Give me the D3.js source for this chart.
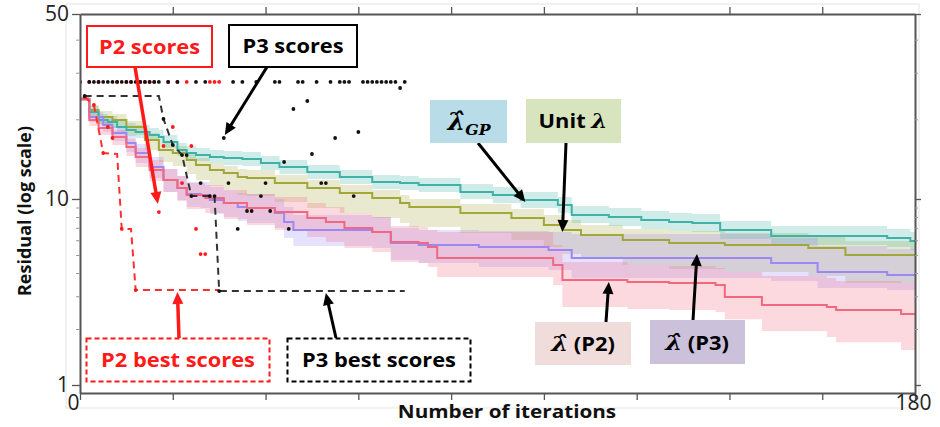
<!DOCTYPE html>
<html>
<head>
<meta charset="utf-8">
<script src="https://cdn.jsdelivr.net/npm/d3@7"></script>
<style>
  body { margin: 0; background: #fff; }
  svg { display: block; font-family: "Open Sans", "Noto Sans", sans-serif; }
</style>
</head>
<body>
<svg id="chart" width="940" height="427"></svg>
<script>
// ---------------- data ----------------
// Mean residual and band (low/high) of each method, as step series over iterations
const gpIter  = [0,2,4,6,8,10,12,15,17,18,21,23,25,28,31,35,39,43,49,56,63,69,73,82,89,95,103,106,114,121,127,132,138,149,174,179,180];
const gpMean  = [23.87,21.32,19.89,19.54,18.71,18.23,17.91,17.45,17.15,16.42,15.31,14.92,14.66,14.41,14.29,14.16,13.68,13.21,12.65,12.11,11.59,11.49,11.29,10.63,10.35,9.88,9.28,8.20,8.00,7.71,7.52,7.43,6.81,6.32,6.17,5.95,5.95];
const gpHigh  = [24.29,22.46,20.95,20.59,19.89,19.37,19.04,18.55,18.23,17.45,16.28,15.86,15.59,15.31,15.18,15.05,14.54,14.04,13.44,12.87,12.32,12.22,12.01,11.39,11.10,10.63,10.17,9.17,8.94,8.62,8.41,8.30,7.61,7.16,6.90,6.65,6.65];
const gpLow   = [23.46,20.59,19.04,18.55,17.76,17.30,17.00,16.56,16.28,15.59,14.54,14.16,13.92,13.68,13.44,13.33,12.87,12.43,11.90,11.39,10.91,10.81,10.63,10.00,9.51,8.94,8.41,7.43,7.16,6.90,6.73,6.65,6.09,5.66,5.52,5.32,5.32];

const unitIter = [0,2,4,7,10,14,17,20,23,25,28,31,34,36,42,49,56,63,69,71,82,93,100,104,108,117,127,139,157,165,180];
const unitMean = [23.87,21.69,20.40,19.89,18.71,16.71,15.31,14.92,14.04,13.44,12.87,12.54,12.11,12.01,11.49,11.00,10.54,10.09,9.51,9.06,8.41,7.90,7.25,6.81,6.40,6.02,5.80,5.66,5.45,5.00,5.00];
const unitHigh = [24.29,22.65,21.50,20.95,19.71,17.76,16.28,15.86,14.92,14.29,13.68,13.33,12.98,12.87,12.32,11.80,11.29,10.81,10.35,10.00,9.40,8.84,8.20,7.71,7.25,6.90,6.73,6.56,6.40,5.95,5.95];
const unitLow  = [23.46,20.77,19.20,18.55,17.45,15.31,13.80,13.33,12.43,11.80,11.20,10.81,10.35,10.26,9.63,8.94,8.41,7.90,7.43,7.07,6.56,6.02,5.52,5.06,4.76,4.42,4.20,4.05,3.85,3.53,3.53];

const lamP3Iter = [0,2,5,7,10,12,15,18,21,23,26,28,31,34,36,42,44,46,63,67,73,86,101,106,149,159,174,180];
const lamP3Mean = [23.87,20.40,19.04,17.76,16.28,14.92,13.21,11.80,11.00,10.44,10.35,9.88,9.51,9.06,8.94,8.41,7.52,6.81,6.65,5.80,5.66,5.52,5.32,4.82,4.53,4.05,3.90,3.85];
const lamP3High = [24.29,21.32,20.06,18.87,17.45,16.14,14.41,12.98,12.22,11.59,11.59,11.10,10.81,10.54,10.44,10.00,9.06,8.20,8.00,6.98,6.81,6.73,6.65,6.48,6.17,5.59,5.38,5.32];
const lamP3Low  = [23.46,19.54,17.91,16.56,15.05,13.68,12.01,10.63,9.88,9.06,8.94,8.30,8.00,7.61,7.43,6.98,6.17,5.59,5.45,4.70,4.53,4.31,4.15,3.76,3.62,3.32,3.24,3.20];

const lamP2Iter = [0,2,4,7,10,12,15,18,21,23,27,31,36,42,49,53,57,63,67,73,75,77,102,104,118,127,137,139,147,161,163,177,180];
const lamP2Mean = [23.87,19.89,18.55,17.15,15.72,14.41,12.87,11.80,11.00,10.35,10.09,9.51,8.94,8.51,7.90,7.52,6.98,6.65,5.87,5.80,5.52,4.82,4.42,3.67,3.58,3.53,3.45,2.97,2.69,2.63,2.53,2.41,2.41];
const lamP2High = [24.29,20.77,19.54,18.23,16.85,15.59,14.04,12.98,12.22,11.49,11.29,10.81,10.44,10.17,9.51,9.06,8.41,8.00,7.16,7.07,6.81,6.65,5.66,4.58,4.42,4.36,4.26,4.05,3.85,3.76,3.62,3.53,3.53];
const lamP2Low  = [23.46,18.87,17.45,16.00,14.54,13.21,11.69,10.63,9.75,8.84,8.41,7.81,7.25,6.81,6.25,5.87,5.45,5.19,4.58,4.53,4.31,3.81,3.45,2.63,2.56,2.53,2.47,2.26,1.95,1.81,1.70,1.54,1.54];

// Per-iteration scores (index = iteration) of the two probing runs
const p2Scores = [27.7,24.3,27.7,22.65,27.7,14.92,18.71,17.00,27.7,6.90,27.7,27.7,3.24,27.7,27.7,27.7,27.7,8.51,15.86,27.7,18.71,27.7,11.49,27.7,15.86,6.90,5.06,5.06,27.7,27.7,27.7];
const p3Scores = [27.7,24.5,27.7,27.7,27.7,27.7,27.7,27.7,27.7,27.7,27.7,27.7,27.7,27.7,27.7,27.7,27.7,27.7,20.06,27.7,16.00,27.7,14.66,14.66,10.26,27.7,11.49,27.7,10.26,10.26,3.20,17.00,11.49,27.7,6.90,27.7,8.62,8.62,27.7,10.26,11.49,8.62,27.7,27.7,13.80,6.90,21.88,27.7,27.7,23.46,14.79,27.7,11.49,11.49,27.7,17.00,27.7,27.7,27.7,10.26,17.91,27.7,27.7,27.7,27.7,27.7,27.7,27.7,27.7,26.27,27.7];

// Best score found so far
const p2BestIter = [1,3,5,8,9,11,12,30];
const p2Best     = [24.3,22.65,14.92,14.79,6.90,6.90,3.24,3.24];
const p3BestIter = [1,17,18,20,22,24,29,30,70];
const p3Best     = [24.5,24.5,20.06,16.00,14.66,10.26,10.26,3.20,3.20];

// Axis ticks
const xTicks = [0,20,40,60,80,100,120,140,160,180];
const xLabels = [0,180];
const yTicks = [1,10,50];
const yMinor = [2,3,4,5,6,7,8,9,20,30,40];

// ---------------- chart ----------------
const svg = d3.select("#chart");
const plot = { left: 80, right: 915, top: 14, bottom: 393 };
const STRETCH = 1.15;   // horizontal widening of label text

const x = d3.scaleLinear().domain([0, 180]).range([plot.left, plot.right]);
const y = d3.scaleLog().domain([0.906, 1, 10, 50]).range([plot.bottom, 385, 199, plot.top]);

// faint outer frame
svg.append("rect").attr("x", 66).attr("y", 4).attr("width", 853).attr("height", 404)
  .attr("fill", "none").attr("stroke", "#e4e4e4").attr("stroke-width", 1);

svg.append("clipPath").attr("id", "clip").append("rect")
  .attr("x", plot.left).attr("y", plot.top)
  .attr("width", plot.right - plot.left).attr("height", plot.bottom - plot.top);

const series = [
  { iter: unitIter,  mean: unitMean,  low: unitLow,  high: unitHigh,  color: "#a2a73a" },
  { iter: gpIter,    mean: gpMean,    low: gpLow,    high: gpHigh,    color: "#3fb2a7" },
  { iter: lamP3Iter, mean: lamP3Mean, low: lamP3Low, high: lamP3High, color: "#9b88f3" },
  { iter: lamP2Iter, mean: lamP2Mean, low: lamP2Low, high: lamP2High, color: "#f26880" }
];

const plotG = svg.append("g").attr("clip-path", "url(#clip)");

series.forEach(s => {
  const area = d3.area()
    .x(i => x(s.iter[i])).y0(i => y(s.low[i])).y1(i => y(s.high[i]))
    .curve(d3.curveStepAfter);
  plotG.append("path").datum(d3.range(s.iter.length))
    .attr("d", area).attr("fill", s.color).attr("fill-opacity", 0.25);
});
series.forEach(s => {
  const line = d3.line().x(i => x(s.iter[i])).y(i => y(s.mean[i])).curve(d3.curveStepAfter);
  plotG.append("path").datum(d3.range(s.iter.length))
    .attr("d", line).attr("fill", "none").attr("stroke", s.color).attr("stroke-width", 2);
});

// best-so-far dashed traces
function bestLine(iters, vals, color) {
  const line = d3.line().x(i => x(iters[i])).y(i => y(vals[i]));
  plotG.append("path").datum(d3.range(iters.length))
    .attr("d", line).attr("fill", "none").attr("stroke", color)
    .attr("stroke-width", 2).attr("stroke-dasharray", "7,5");
}
bestLine(p2BestIter, p2Best, "#ff3030");
bestLine(p3BestIter, p3Best, "#333");

// score dots
plotG.append("g").selectAll("circle").data(p2Scores).join("circle")
  .attr("cx", (d, i) => x(i)).attr("cy", d => y(d)).attr("r", 1.9).attr("fill", "#ff1a1a");
plotG.append("g").selectAll("circle").data(p3Scores).join("circle")
  .attr("cx", (d, i) => x(i)).attr("cy", d => y(d)).attr("r", 1.9).attr("fill", "#111");

// ---------------- axes ----------------
function styleAxis(g) {
  g.select(".domain").attr("stroke", "#555").attr("stroke-width", 2);
  g.selectAll(".tick line").attr("stroke", "#555").attr("stroke-width", 1.3);
  g.selectAll("text").attr("font-family", "'Open Sans', sans-serif").attr("fill", "#222");
}

const gLeft = svg.append("g").attr("transform", `translate(${plot.left},0)`)
  .call(d3.axisLeft(y).tickValues(yTicks).tickFormat(d3.format("d")).tickSize(8).tickPadding(3).tickSizeOuter(0));
styleAxis(gLeft);
gLeft.selectAll("text").attr("font-size", 21);
svg.append("g").attr("transform", `translate(${plot.left},0)`)
  .call(d3.axisLeft(y).tickValues(yMinor).tickFormat("").tickSize(4))
  .call(g => { g.select(".domain").remove(); g.selectAll("line").attr("stroke", "#999"); });

const gRight = svg.append("g").attr("transform", `translate(${plot.right},0)`)
  .call(d3.axisRight(y).tickValues(yTicks).tickFormat("").tickSize(6).tickSizeOuter(0));
styleAxis(gRight);
svg.append("g").attr("transform", `translate(${plot.right},0)`)
  .call(d3.axisRight(y).tickValues(yMinor).tickFormat("").tickSize(3))
  .call(g => { g.select(".domain").remove(); g.selectAll("line").attr("stroke", "#999"); });

const gTop = svg.append("g").attr("transform", `translate(0,${plot.top})`)
  .call(d3.axisTop(x).tickValues(xTicks.slice(1, -1)).tickFormat("").tickSize(7).tickSizeOuter(0));
styleAxis(gTop);

const gBottom = svg.append("g").attr("transform", `translate(0,${plot.bottom})`)
  .call(d3.axisBottom(x).tickValues(xTicks).tickSize(7).tickSizeOuter(0)
    .tickFormat(d => xLabels.includes(d) ? d3.format("d")(d) : ""));
styleAxis(gBottom);
gBottom.selectAll("text").attr("font-size", 21).attr("y", 2)
  .attr("dx", d => d === 0 ? -7 : -2);

// text placed at (px, py), widened horizontally
function label(px, py, opts) {
  const g = svg.append("g").attr("transform", `translate(${px},${py}) scale(${opts.sx || STRETCH},1)`);
  return g.append("text").attr("text-anchor", "middle")
    .attr("font-size", opts.size).attr("font-weight", opts.weight || 700)
    .attr("fill", opts.fill || "#000");
}

label(507, 418, { size: 18, fill: "#111" }).text("Number of iterations");
svg.append("text").attr("transform", "translate(31,211) rotate(-90)").attr("text-anchor", "middle")
  .attr("font-size", 18).attr("font-weight", 700).attr("fill", "#111")
  .text("Residual (log scale)");

// ---------------- annotations ----------------
function arrow(x1, y1, x2, y2, color, w) {
  const dx = x2 - x1, dy = y2 - y1, len = Math.hypot(dx, dy);
  const ux = dx / len, uy = dy / len, L = 12, hw = 5.5;
  svg.append("line").attr("x1", x1).attr("y1", y1)
    .attr("x2", x2 - ux * (L - 2)).attr("y2", y2 - uy * (L - 2))
    .attr("stroke", color).attr("stroke-width", w);
  const bx = x2 - ux * L, by = y2 - uy * L;
  svg.append("path")
    .attr("d", `M${x2},${y2}L${bx - uy * hw},${by + ux * hw}L${bx + uy * hw},${by - ux * hw}Z`)
    .attr("fill", color);
}

function box(x0, y0, w, h, fill, stroke, dash) {
  svg.append("rect").attr("x", x0).attr("y", y0).attr("width", w).attr("height", h)
    .attr("fill", fill).attr("stroke", stroke || "none")
    .attr("stroke-width", stroke ? 2 : 0).attr("stroke-dasharray", dash || null);
}

const RED = "#ff1a1a";
const MATH = "'DejaVu Serif', serif";

// P2 / P3 scores
arrow(135, 67, x(17) - 1, y(8.51) - 8, RED, 3.5);
box(87, 26, 125, 41, "#fff", RED);
label(149.5, 54, { size: 19, fill: RED }).text("P2 scores");

arrow(267, 67, x(31) + 1, y(17.00) - 3, "#000", 3);
box(229, 25, 128, 42, "#fff", "#000");
label(293, 53, { size: 19 }).text("P3 scores");

// best-score boxes
arrow(179, 338, x(21), y(3.24) + 2, RED, 3.5);
box(86.5, 338.5, 183, 43, "#fff", RED, "5,3");
label(178, 367, { size: 19, fill: RED }).text("P2 best scores");

arrow(336, 338, x(53), y(3.20) + 2, "#000", 3);
box(287.5, 338.5, 183, 43, "#fff", "#000", "5,3");
label(379, 367, { size: 19 }).text("P3 best scores");

// method labels
arrow(478, 143, x(96), y(9.88) + 2, "#000", 3);
box(430, 100, 77, 43, "#b8dde8");
const tGP = label(469, 130, { size: 24, sx: 1.05 })
  .attr("font-family", MATH).attr("font-style", "italic");
tGP.append("tspan").text("\u03BB\u0302");
tGP.append("tspan").attr("font-size", 15).attr("dy", 5).text("GP");

arrow(566, 143, x(104), y(6.81) + 2, "#000", 3);
box(526, 99, 95, 44, "#d7e4bd");
const tU = label(573, 128, { size: 19 });
tU.append("tspan").text("Unit ");
tU.append("tspan").attr("font-family", MATH).attr("font-style", "italic").attr("font-size", 20).text("\u03BB");

arrow(606, 322, x(114), y(3.67) + 2, "#000", 3);
box(535, 322, 96, 43, "#f0dcdb");
const tP2 = label(583, 351, { size: 19 });
tP2.append("tspan").attr("font-family", MATH).attr("font-style", "italic").attr("font-size", 21).text("\u03BB\u0302");
tP2.append("tspan").text(" (P2)");

arrow(693, 320, x(133), y(4.82) - 4, "#000", 3);
box(650, 320, 95, 44, "#ccc1da");
const tP3 = label(697, 350, { size: 19 });
tP3.append("tspan").attr("font-family", MATH).attr("font-style", "italic").attr("font-size", 21).text("\u03BB\u0302");
tP3.append("tspan").text(" (P3)");
</script>
</body>
</html>
